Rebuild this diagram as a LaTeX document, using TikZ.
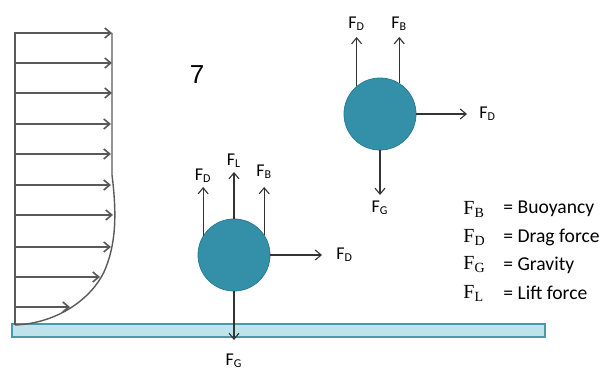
\documentclass[tikz,border=0pt]{standalone}
\usepackage{fontspec}
\setmainfont{Carlito}
\newfontfamily\keyserif{Liberation Serif}
\newfontfamily\numsans{Liberation Sans}
\usetikzlibrary{arrows.meta,positioning}
\usepackage{xcolor}
\definecolor{particle}{HTML}{3390A8}
\definecolor{particleedge}{HTML}{2A7D93}
\definecolor{bedfill}{HTML}{BFE2EB}
\definecolor{bededge}{HTML}{4C98AB}
\newcommand{\frc}[1]{F\textsubscript{#1}}

\begin{document}
\begin{tikzpicture}[x=0.5pt,y=0.5pt,node distance=1pt,>={Straight Barb[length=3pt,width=5pt]}]
  \tikzset{
    grain/.style={circle, draw=particleedge, fill=particle, minimum size=36pt, inner sep=0pt},
    force/.style={->, draw=black!80, line width=0.55pt},
    flow/.style={->, draw=black!65, line width=0.8pt},
    lbl/.style={font=\fontsize{9}{10}\selectfont, inner sep=1pt},
    key/.style={font=\keyserif\fontsize{10}{11}\selectfont, anchor=west, inner sep=0pt},
    keytext/.style={font=\fontsize{9.8}{11}\selectfont, anchor=west, inner sep=0pt}
  }
  \useasboundingbox (0,0) rectangle (605,375);

  % bed
  \draw[bededge, fill=bedfill, line width=0.6pt] (12,38) rectangle (545,51);

  % velocity profile
  \draw[black!65, line width=0.8pt] (15,50) -- (15,343);
  \draw[black!65, line width=0.7pt] (112,342) -- (112,200)
    .. controls (117,160) and (116,130) .. (104,103)
    .. controls (92,78) and (60,52) .. (15,50);
  \foreach \y/\tip in {342/112, 312/112, 282/112, 251/111, 221/111, 190/111, 160/113, 128/111, 98/100, 68/70}
    \draw[flow] (15,\y) -- (\tip,\y);

  \node (num) at (197,300) {\numsans\fontsize{13}{14}\selectfont 7};

  % particle on the bed
  \node (g1) [grain] at (234,120) {};
  \coordinate (t1l) at (g1.148 |- 0,188);
  \coordinate (t1m) at (g1.north |- 0,203);
  \coordinate (t1r) at (g1.34 |- 0,188);
  \coordinate (t1e) at (g1.east -| 322,0);
  \coordinate (t1d) at (g1.south |- 0,35);
  \node (l1l) [lbl, above=of t1l] {\frc{D}};
  \node (l1m) [lbl, above=of t1m] {\frc{L}};
  \node (l1r) [lbl, above=3pt of t1r] {\frc{B}};
  \node (l1e) [lbl, right=6pt of t1e] {\frc{D}};
  \node (l1d) [lbl, below=6pt of t1d] {\frc{G}};
  \draw[force] (g1.148) -- (t1l);
  \draw[force] (g1.north) -- (t1m);
  \draw[force] (g1.34) -- (t1r);
  \draw[force] (g1.east) -- (t1e);
  \draw[force] (g1.south) -- (t1d);

  % suspended particle
  \node (g2) [grain] at (380,261) {};
  \coordinate (t2l) at (g2.130 |- 0,338);
  \coordinate (t2r) at (g2.58 |- 0,338);
  \coordinate (t2e) at (g2.east -| 467,0);
  \coordinate (t2d) at (g2.south |- 0,180);
  \node (l2l) [lbl, above=2pt of t2l] {\frc{D}};
  \node (l2r) [lbl, above=2pt of t2r] {\frc{B}};
  \node (l2e) [lbl, right=5pt of t2e] {\frc{D}};
  \node (l2d) [lbl, below=2pt of t2d] {\frc{G}};
  \draw[force] (g2.130) -- (t2l);
  \draw[force] (g2.58) -- (t2r);
  \draw[force] (g2.east) -- (t2e);
  \draw[force] (g2.south) -- (t2d);

  % legend
  \node (kb) [key] at (463,166) {F\textsubscript{B}};
  \node (kd) [key] at (463,138) {F\textsubscript{D}};
  \node (kg) [key] at (463,110) {F\textsubscript{G}};
  \node (kl) [key] at (463,82) {F\textsubscript{L}};
  \node (kbt) [keytext] at (503,166) {= Buoyancy};
  \node (kdt) [keytext] at (503,138) {= Drag force};
  \node (kgt) [keytext] at (503,110) {= Gravity};
  \node (klt) [keytext] at (503,82) {= Lift force};
\end{tikzpicture}
\end{document}
